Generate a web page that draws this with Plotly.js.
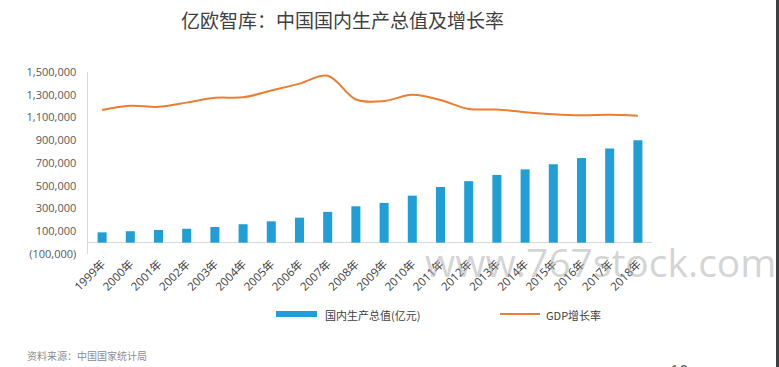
<!DOCTYPE html>
<html>
<head>
<meta charset="utf-8">
<script src="https://cdn.plot.ly/plotly-3.0.1.min.js"></script>
<style>
html,body{margin:0;padding:0;background:#fff;}
#wrap{position:relative;width:779px;height:367px;overflow:hidden;}
#chart{width:779px;height:367px;}
#edge{position:absolute;left:776px;top:0;width:3px;height:367px;background:#3c4043;}
</style>
</head>
<body>
<div id="wrap"><div id="chart"></div><div id="edge"></div></div>
<script>
const years = ['1999年','2000年','2001年','2002年','2003年','2004年','2005年','2006年','2007年','2008年',
               '2009年','2010年','2011年','2012年','2013年','2014年','2015年','2016年','2017年','2018年'];
const gdpValues = [90564, 100280, 110863, 121717, 137422, 161840, 187319, 219439, 270232, 319516,
                   349081, 413030, 489301, 540367, 595244, 643974, 689052, 743586, 827122, 900309];
const growthRates = [7.7, 8.5, 8.3, 9.1, 10.0, 10.1, 11.4, 12.7, 14.2, 9.7,
                     9.4, 10.6, 9.6, 7.9, 7.8, 7.3, 6.9, 6.7, 6.8, 6.6];
const yTickVals = [-100000, 100000, 300000, 500000, 700000, 900000, 1100000, 1300000, 1500000];
const seriesNames = ['国内生产总值(亿元)', 'GDP增长率'];

function fmt(v){
  const s = Math.abs(v).toString().replace(/\B(?=(\d{3})+(?!\d))/g, ',');
  return v < 0 ? '(' + s + ')' : s;
}
const yTickText = yTickVals.map(fmt);

const BLUE = '#1f9fd5';
const ORANGE = '#ed7d31';
const FONT = '"Open Sans", "Noto Sans CJK SC", sans-serif';

const traces = [
  {type:'bar', x: years, y: gdpValues, name: seriesNames[0], marker:{color: BLUE}, width: 0.32, showlegend:false},
  {type:'scatter', mode:'lines', x: years, y: growthRates, yaxis:'y2', name: seriesNames[1],
   line:{color: ORANGE, width: 2, shape:'spline', smoothing: 1}, showlegend:false}
];

// paper coordinate helpers for the plot area (l=88, r=127, t=72, b=113)
const PL = 88, PW = 564, PT = 72, PH = 182;
const px = v => (v - PL) / PW;
const py = v => (PT + PH - v) / PH;

const layout = {
  width: 779, height: 367,
  margin: {l: PL, r: 779 - PL - PW, t: PT, b: 367 - PT - PH, pad: 0},
  paper_bgcolor: '#ffffff', plot_bgcolor: '#ffffff',
  font: {family: FONT, color: '#404040'},
  title: {text: '亿欧智库：中国国内生产总值及增长率', font: {family: '"Noto Sans CJK SC", sans-serif', size: 19, color: '#404040'},
          xref: 'container', yref: 'container', x: 342.5/779, y: 1 - 21/367, xanchor: 'center', yanchor: 'middle'},
  bargap: 0.68,
  xaxis: {type: 'category', categoryorder: 'array', categoryarray: years, range: [-0.5, 19.5],
          showline: false, showgrid: false, zeroline: false, ticks: '', tickangle: -45,
          tickfont: {family: FONT, size: 11.5, color: '#404040'}, fixedrange: true},
  yaxis: {range: [-100000, 1500000], tickvals: yTickVals, ticktext: yTickText,
          showgrid: false, zeroline: true, zerolinecolor: '#d9d9d9', zerolinewidth: 1.5,
          showline: true, linecolor: '#d9d9d9', linewidth: 1.5, ticks: '', ticklabelstandoff: 8,
          tickfont: {family: FONT, size: 11, color: '#595959'}, fixedrange: true},
  yaxis2: {overlaying: 'y', side: 'right', range: [-19.57, 14.9], visible: false, fixedrange: true},
  showlegend: false,
  shapes: [
    {type: 'rect', xref: 'paper', yref: 'paper', x0: px(276), x1: px(317), y0: py(317), y1: py(311),
     fillcolor: BLUE, line: {width: 0}},
    {type: 'line', xref: 'paper', yref: 'paper', x0: px(500), x1: px(540), y0: py(314), y1: py(314),
     line: {color: ORANGE, width: 2}}
  ],
  annotations: [
    {xref: 'paper', yref: 'paper', x: px(323), y: py(314.5), xanchor: 'left', yanchor: 'middle', showarrow: false,
     text: seriesNames[0], font: {family: '"Noto Sans CJK SC", sans-serif', size: 11, color: '#404040'}},
    {xref: 'paper', yref: 'paper', x: px(544), y: py(314.5), xanchor: 'left', yanchor: 'middle', showarrow: false,
     text: seriesNames[1], font: {family: '"Noto Sans CJK SC", sans-serif', size: 11, color: '#404040'}},
    {xref: 'paper', yref: 'paper', x: px(25), y: py(355), xanchor: 'left', yanchor: 'middle', showarrow: false,
     text: '资料来源：中国国家统计局', font: {family: '"Noto Sans CJK SC", sans-serif', size: 10, color: '#8c8c8c'}},
    {xref: 'paper', yref: 'paper', x: px(679), y: py(358), xanchor: 'center', yanchor: 'top', showarrow: false,
     text: '10', font: {family: FONT, size: 16, color: '#595959'}},
    {xref: 'paper', yref: 'paper', x: px(600), y: py(261), xanchor: 'center', yanchor: 'middle', showarrow: false,
     text: 'www.767stock.com', font: {family: '"Open Sans", sans-serif', size: 39, color: 'rgba(170,170,170,0.5)'}}
  ]
};

Plotly.newPlot('chart', traces, layout, {staticPlot: true, displayModeBar: false});
</script>
</body>
</html>
